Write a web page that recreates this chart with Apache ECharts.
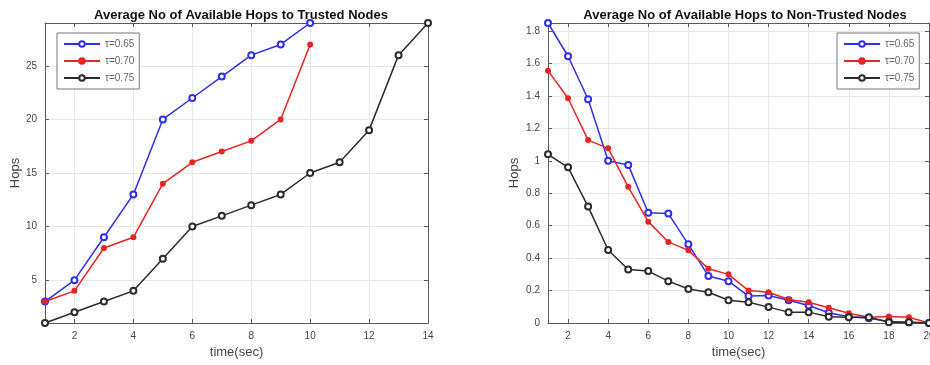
<!DOCTYPE html>
<html>
<head>
<meta charset="utf-8">
<script src="https://cdn.jsdelivr.net/npm/echarts@6/dist/echarts.min.js"></script>
<style>
  html, body { margin: 0; padding: 0; background: #fff; overflow: hidden; }
  #chart { width: 930px; height: 365px; }
</style>
</head>
<body>
<div id="chart"></div>
<script>
// trusted nodes, t = 1..14
const trusted065 = [3, 5, 9, 13, 20, 22, 24, 26, 27, 29]
const trusted070 = [3, 4, 8, 9, 14, 16, 17, 18, 20, 27]
const trusted075 = [1, 2, 3, 4, 7, 10, 11, 12, 13, 15, 16, 19, 26, 29]

// non-trusted nodes, t = 1..20
const nonTrusted065 = [1.85, 1.645, 1.38, 1.0, 0.975, 0.68, 0.675, 0.485, 0.29, 0.258,
  0.166, 0.17, 0.14, 0.108, 0.063, 0.038, 0.03, 0.01, 0.005, 0]
const nonTrusted070 = [1.556, 1.386, 1.128, 1.077, 0.84, 0.625, 0.5, 0.448, 0.335, 0.3,
  0.2, 0.19, 0.145, 0.128, 0.094, 0.06, 0.035, 0.04, 0.035, 0]
const nonTrusted075 = [1.04, 0.96, 0.718, 0.45, 0.33, 0.32, 0.258, 0.21, 0.19, 0.14,
  0.128, 0.098, 0.067, 0.067, 0.038, 0.035, 0.035, 0.005, 0.005, 0]

const seriesNames = ['τ=0.65', 'τ=0.70', 'τ=0.75']
const leftXTicks = [2, 4, 6, 8, 10, 12, 14]
const leftYTicks = [5, 10, 15, 20, 25]
const rightXTicks = [2, 4, 6, 8, 10, 12, 14, 16, 18, 20]
const rightYTicks = [0, 0.2, 0.4, 0.6, 0.8, 1, 1.2, 1.4, 1.6, 1.8]

const toPoints = (arr) => arr.map((v, i) => [i + 1, v])

const boxColor = '#5a5a5a'
const gridColor = '#e8e8e8'
const labelStyle = { color: '#444', fontSize: 10, fontFamily: 'Liberation Sans' }

function mainAxis(gridIndex, position, min, max, ticks, name, nameGap) {
  return {
    type: 'value', gridIndex, position, min, max,
    name, nameLocation: 'middle', nameGap,
    nameTextStyle: { color: '#444', fontSize: 13, fontFamily: 'Liberation Sans' },
    axisLine: { show: true, onZero: false, lineStyle: { color: boxColor, width: 1 } },
    axisTick: { show: true, inside: true, length: 4, customValues: ticks, lineStyle: { color: boxColor } },
    axisLabel: { show: true, customValues: ticks, margin: 8, ...labelStyle },
    splitLine: { show: true, lineStyle: { color: gridColor, width: 1 } },
  }
}

function boxAxis(gridIndex, position, min, max, ticks) {
  return {
    type: 'value', gridIndex, position, min, max,
    axisLine: { show: true, onZero: false, lineStyle: { color: boxColor, width: 1 } },
    axisTick: { show: true, inside: true, length: 4, customValues: ticks, lineStyle: { color: boxColor } },
    axisLabel: { show: false },
    splitLine: { show: false },
  }
}

const styles = [
  { color: '#2f2fe8', symbol: 'emptyCircle', symbolSize: 6 },
  { color: '#e62424', symbol: 'circle', symbolSize: 4.5 },
  { color: '#2b2b2b', symbol: 'emptyCircle', symbolSize: 6 },
]

function makeSeries(data, idx, axisIdx) {
  const s = styles[idx]
  return {
    name: seriesNames[idx], type: 'line',
    xAxisIndex: axisIdx, yAxisIndex: axisIdx,
    data: toPoints(data),
    symbol: s.symbol, symbolSize: s.symbolSize,
    lineStyle: { color: s.color, width: 1.5 },
    itemStyle: { color: s.color, borderColor: s.color, borderWidth: 1.5 },
    z: 3 + idx,
  }
}

const legendBase = {
  orient: 'vertical',
  data: seriesNames,
  itemWidth: 36, itemHeight: 7, itemGap: 7,
  padding: [6, 5, 6, 6],
  borderColor: '#777', borderWidth: 1,
  backgroundColor: '#fff',
  textStyle: { color: '#666', fontSize: 10, fontFamily: 'Liberation Sans' },
  selectedMode: false,
}

const titleStyle = { fontSize: 13, fontWeight: 'bold', color: '#111', fontFamily: 'Liberation Sans' }

const chart = echarts.init(document.getElementById('chart'), null, { renderer: 'canvas' })
chart.setOption({
  animation: false,
  backgroundColor: '#fff',
  title: [
    { text: 'Average No of Available Hops to Trusted Nodes', left: 236, top: 4, textAlign: 'center', textStyle: titleStyle },
    { text: 'Average No of Available Hops to Non-Trusted Nodes', left: 740, top: 4, textAlign: 'center', textStyle: titleStyle },
  ],
  legend: [
    { ...legendBase, left: 57, top: 33 },
    { ...legendBase, left: 837, top: 33 },
  ],
  grid: [
    { left: 45, right: 502, top: 23, bottom: 42, outerBoundsMode: 'none' },
    { left: 548, right: 1, top: 23, bottom: 42, outerBoundsMode: 'none' },
  ],
  xAxis: [
    mainAxis(0, 'bottom', 1, 14, leftXTicks, 'time(sec)', 22),
    mainAxis(1, 'bottom', 1, 20, rightXTicks, 'time(sec)', 22),
    boxAxis(0, 'top', 1, 14, leftXTicks),
    boxAxis(1, 'top', 1, 20, rightXTicks),
  ],
  yAxis: [
    mainAxis(0, 'left', 1, 29, leftYTicks, 'Hops', 23),
    mainAxis(1, 'left', 0, 1.85, rightYTicks, 'Hops', 27),
    boxAxis(0, 'right', 1, 29, leftYTicks),
    boxAxis(1, 'right', 0, 1.85, rightYTicks),
  ],
  series: [
    makeSeries(trusted065, 0, 0),
    makeSeries(trusted070, 1, 0),
    makeSeries(trusted075, 2, 0),
    makeSeries(nonTrusted065, 0, 1),
    makeSeries(nonTrusted070, 1, 1),
    makeSeries(nonTrusted075, 2, 1),
  ],
})
</script>
</body>
</html>
